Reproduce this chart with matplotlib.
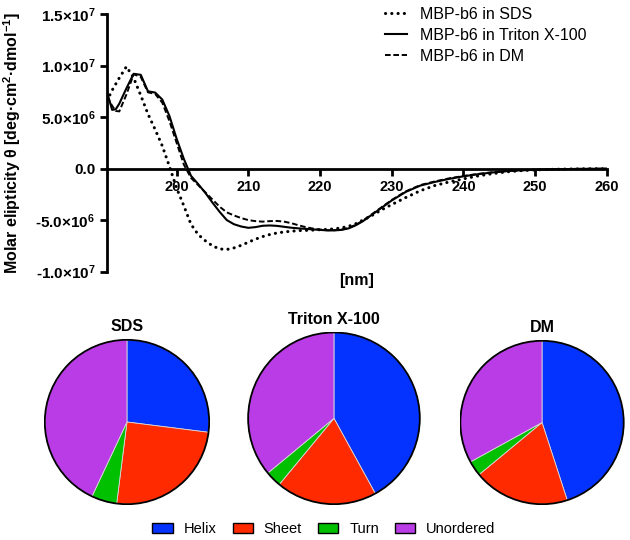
import matplotlib
matplotlib.use("Agg")
import matplotlib.pyplot as plt
from matplotlib.patches import Patch, Ellipse

plt.rcParams['font.family'] = ['Liberation Sans', 'DejaVu Sans']
plt.rcParams['mathtext.fontset'] = 'custom'
plt.rcParams['mathtext.rm'] = 'Liberation Sans'
plt.rcParams['mathtext.bf'] = 'Liberation Sans:bold'
plt.rcParams['mathtext.it'] = 'Liberation Sans:italic'

# CD spectra, values in 1e6 deg cm2 dmol-1
wavelength = [190.3, 191, 191.5, 192, 193, 194, 195, 196, 197, 198, 199, 200,
              201, 202, 203, 204, 205, 206, 207, 208, 209, 210, 211, 212, 213,
              214, 215, 216, 217, 218, 219, 220, 221, 222, 223, 224, 225, 226,
              227, 228, 229, 230, 232, 234, 236, 238, 240, 242, 244, 246, 248,
              250, 252, 254, 256, 258, 260]
sds = [6.6, 7.6, 8.2, 8.8, 9.9, 8.8, 7.1, 5.3, 3.8, 2.2, 0.2, -1.9,
       -3.6, -5.4, -6.4, -7.0, -7.5, -7.8, -7.85, -7.7, -7.45, -7.15, -6.85, -6.6, -6.4,
       -6.25, -6.15, -6.08, -6.02, -6.0, -5.97, -5.93, -5.9, -5.85, -5.75, -5.6, -5.35, -5.0,
       -4.65, -4.25, -3.85, -3.5, -2.8, -2.15, -1.65, -1.3, -1.0, -0.72, -0.5, -0.32, -0.2,
       -0.13, -0.08, -0.05, -0.03, -0.02, -0.01]
triton = [7.4, 5.7, 5.75, 6.3, 7.8, 9.2, 9.1, 7.5, 7.38, 6.7, 5.1, 2.9,
          0.95, -0.7, -1.5, -2.35, -3.3, -4.2, -5.0, -5.4, -5.62, -5.75, -5.68, -5.55, -5.52,
          -5.56, -5.65, -5.74, -5.8, -5.85, -5.9, -5.95, -6.0, -6.0, -5.95, -5.8, -5.5, -5.1,
          -4.6, -4.1, -3.6, -3.1, -2.25, -1.65, -1.3, -1.0, -0.75, -0.55, -0.38, -0.25, -0.17,
          -0.12, -0.08, -0.05, -0.03, -0.02, -0.01]
dm = [7.0, 6.1, 5.6, 5.55, 7.2, 9.15, 8.9, 7.4, 7.25, 6.4, 4.6, 2.5,
      0.4, -0.9, -1.6, -2.3, -3.0, -3.7, -4.25, -4.55, -4.8, -5.0, -5.1, -5.15, -5.1,
      -5.08, -5.15, -5.3, -5.5, -5.68, -5.82, -5.92, -5.98, -5.98, -5.92, -5.76, -5.45, -5.05,
      -4.55, -4.05, -3.55, -3.05, -2.2, -1.6, -1.25, -0.95, -0.72, -0.52, -0.36, -0.24, -0.16,
      -0.11, -0.07, -0.05, -0.03, -0.02, -0.01]
series_labels = ['MBP-b6 in SDS', 'MBP-b6 in Triton X-100', 'MBP-b6 in DM']

yticks = [-1.0e7, -5.0e6, 0, 5.0e6, 1.0e7, 1.5e7]
ytick_labels = [r'-1.0×10$^{\mathbf{7}}$', r'-5.0×10$^{\mathbf{6}}$', '0.0',
                r'5.0×10$^{\mathbf{6}}$', r'1.0×10$^{\mathbf{7}}$', r'1.5×10$^{\mathbf{7}}$']
xticks = [200, 210, 220, 230, 240, 250, 260]

# secondary structure (%)
structures = ['Helix', 'Sheet', 'Turn', 'Unordered']
pie_titles = ['SDS', 'Triton X-100', 'DM']
pie_sds = [27, 25, 5, 43]
pie_triton = [42, 19, 3, 36]
pie_dm = [45, 19, 3, 33]
struct_colors = ['#0433FF', '#FF2A00', '#00C000', '#BA3CE6']

fig = plt.figure(figsize=(6.3, 5.4), dpi=100)

ax = fig.add_axes([0.170, 0.497, 0.793, 0.477])
ys = [[v * 1e6 for v in s] for s in (sds, triton, dm)]
ax.plot(wavelength, ys[0], color='black', lw=2.2, linestyle=(0, (0.05, 2.0)),
        dash_capstyle='round', label=series_labels[0])
ax.plot(wavelength, ys[1], color='black', lw=1.5, label=series_labels[1])
ax.plot(wavelength, ys[2], color='black', lw=1.4, linestyle=(0, (2.9, 1.4)),
        label=series_labels[2])
ax.set_xlim(190.3, 260)
ax.set_ylim(-1.0e7, 1.5e7)
ax.spines['top'].set_visible(False)
ax.spines['right'].set_visible(False)
ax.spines['bottom'].set_position(('data', 0))
ax.spines['left'].set_linewidth(2.0)
ax.spines['bottom'].set_linewidth(2.0)
ax.set_xticks(xticks)
ax.set_yticks(yticks)
ax.set_yticklabels(ytick_labels)
ax.tick_params(width=2.0, length=5)
ax.tick_params(axis='x', labelsize=10.5)
ax.tick_params(axis='y', labelsize=11)
for lab in ax.get_xticklabels() + ax.get_yticklabels():
    lab.set_fontweight('bold')
ax.set_ylabel(r'Molar elipticity θ [deg·cm$^{\mathbf{2}}$·dmol$^{\mathbf{-1}}$]',
              fontsize=11.5, fontweight='bold')
ax.yaxis.set_label_coords(-0.168, 0.5)
ax.set_xlabel('[nm]', fontsize=11.5, fontweight='bold')
ax.xaxis.set_label_coords(0.5, -0.005)
ax.legend(loc='upper left', bbox_to_anchor=(0.611, 0.987), bbox_transform=fig.transFigure,
          frameon=False, fontsize=11.5, handlelength=1.4, handletextpad=0.8,
          labelspacing=0.37, borderpad=0, borderaxespad=0)

pie_rects = [[0.0698, 0.0648, 0.2635, 0.3074],
             [0.3925, 0.0648, 0.2752, 0.3211],
             [0.7294, 0.0648, 0.2619, 0.3056]]
for rect, vals, title in zip(pie_rects, [pie_sds, pie_triton, pie_dm], pie_titles):
    pax = fig.add_axes(rect)
    pax.pie(vals, colors=struct_colors, startangle=90, counterclock=False, radius=1,
            wedgeprops=dict(linewidth=0.6, edgecolor='#d8d8d8'))
    pax.add_patch(Ellipse((0, 0), 2, 2, fill=False, edgecolor='black', lw=1.3))
    pax.set_aspect('auto')
    pax.set_xlim(-1.01, 1.01)
    pax.set_ylim(-1.01, 1.01)
    pax.set_title(title, fontsize=11.5, fontweight='bold', pad=5.5)

handles = [Patch(facecolor=c, edgecolor='black', linewidth=1.0) for c in struct_colors]
fig.legend(handles, structures, loc='center', bbox_to_anchor=(324 / 630, 1 - 529 / 540),
           ncol=4, frameon=False, fontsize=10.5, handlelength=1.38, handleheight=0.69,
           handletextpad=0.76, columnspacing=1.1)

fig.savefig('out.png', dpi=100)
